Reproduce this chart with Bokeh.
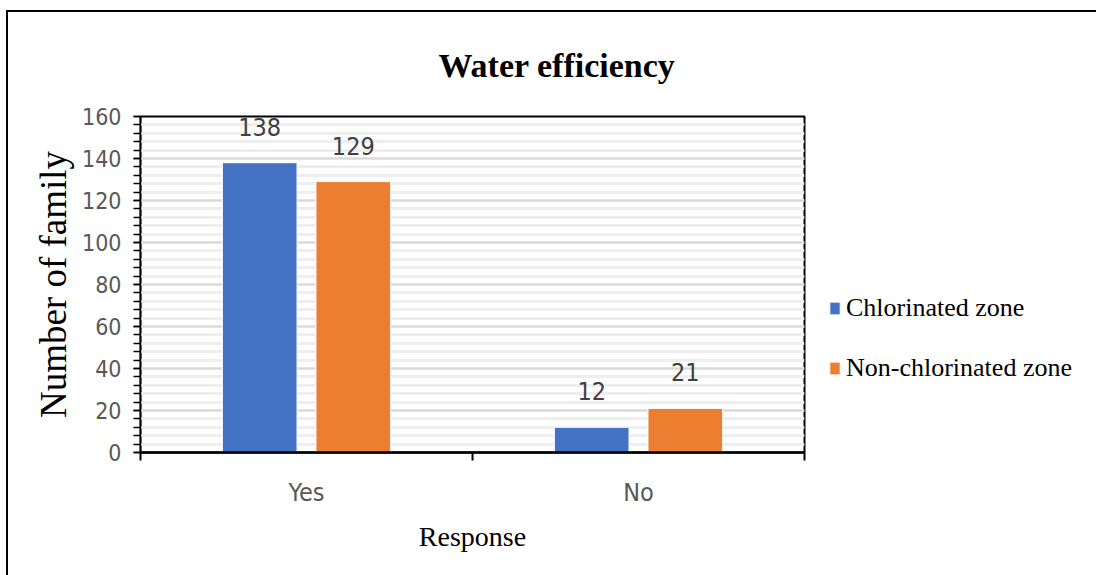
from bokeh.plotting import figure
from bokeh.models import (ColumnDataSource, Range1d, FixedTicker, SingleIntervalTicker,
                          Legend, LegendItem)
from bokeh.transform import dodge
from bokeh.core.properties import value
from bokeh.embed import file_html
from bokeh.resources import INLINE

# ---- data ----
categories = ["Yes", "No"]
chlorinated = [138, 12]
non_chlorinated = [129, 21]
series_names = ["Chlorinated zone", "Non-chlorinated zone"]
y_max = 160
y_step = 20

SERIF = "Liberation Serif"
NARROW = "'Liberation Sans Narrow', 'DejaVu Sans Condensed', 'Open Sans'"
BLUE = "#4472C4"
ORANGE = "#ED7D31"

n = len(categories)
# each category occupies one unit slot on the x scale: [i, i + 1]
centres = [i + 0.5 for i in range(n)]

src = ColumnDataSource(dict(
    cat=categories,
    xc=centres,
    chl=chlorinated,
    non=non_chlorinated,
    chl_lbl=[str(v) for v in chlorinated],
    non_lbl=[str(v) for v in non_chlorinated],
))

p = figure(
    x_range=Range1d(0, n), y_range=Range1d(0, y_max),
    frame_width=664, frame_height=336, output_backend="svg", toolbar_location=None,
    min_border_left=132, min_border_right=292, min_border_top=103, min_border_bottom=124,
    background_fill_color="white", border_fill_color="white",
)
p.styles = {"margin-left": "6px", "margin-top": "10px",
            "border-left": "2px solid #000", "border-top": "2px solid #000"}

p.outline_line_color = "black"
p.outline_line_width = 2

# bars
off, bw = 0.141, 0.225
r_chl = p.vbar(x=dodge("xc", -off, range=p.x_range), top="chl", width=bw, source=src,
               fill_color=BLUE, line_color="white", line_width=1)
r_non = p.vbar(x=dodge("xc", off, range=p.x_range), top="non", width=bw, source=src,
               fill_color=ORANGE, line_color="white", line_width=1)

# value labels
for col, lbl, sgn in (("chl", "chl_lbl", -1), ("non", "non_lbl", 1)):
    p.text(x=dodge("xc", sgn * off, range=p.x_range), y=col, text=lbl, source=src,
           text_align="center", text_baseline="bottom", y_offset=-27,
           text_font=value(NARROW), text_font_size="25px", text_color="#404040")

# y axis and grid
yt = SingleIntervalTicker(interval=y_step, num_minor_ticks=5)
p.yaxis.ticker = yt
p.ygrid.ticker = yt
p.xgrid.visible = False
p.ygrid.grid_line_color = "#D9D9D9"
p.ygrid.grid_line_width = 2
p.ygrid.minor_grid_line_color = "#EEEEEE"
p.ygrid.minor_grid_line_width = 3

ya = p.yaxis[0]
ya.axis_line_color = "black"
ya.axis_line_width = 1.5
ya.major_tick_in = 0
ya.major_tick_out = 7
ya.minor_tick_in = 0
ya.minor_tick_out = 7
ya.major_tick_line_width = 1.5
ya.minor_tick_line_width = 1.5
ya.major_tick_line_color = "black"
ya.minor_tick_line_color = "black"
ya.major_label_text_font = NARROW
ya.major_label_text_font_size = "23px"
ya.major_label_text_color = "#595959"
ya.major_label_standoff = 12
ya.axis_label = "Number of family"
ya.axis_label_text_font = SERIF
ya.axis_label_text_font_size = "37px"
ya.axis_label_text_font_style = "normal"
ya.axis_label_text_color = "black"
ya.axis_label_standoff = 5

# x axis: ticks at category boundaries, labels at category centres
xa = p.xaxis[0]
xa.ticker = FixedTicker(ticks=centres, minor_ticks=list(range(n + 1)))
xa.major_label_overrides = {c: name for c, name in zip(centres, categories)}
xa.axis_line_color = "black"
xa.axis_line_width = 2.5
xa.major_tick_line_color = None
xa.minor_tick_in = 0
xa.minor_tick_out = 8
xa.minor_tick_line_width = 2
xa.minor_tick_line_color = "black"
xa.major_label_text_font = NARROW
xa.major_label_text_font_size = "25px"
xa.major_label_text_color = "#595959"
xa.major_label_standoff = 17
xa.axis_label = "Response"
xa.axis_label_text_font = SERIF
xa.axis_label_text_font_size = "28px"
xa.axis_label_text_font_style = "normal"
xa.axis_label_text_color = "black"
xa.axis_label_standoff = 11

# title
p.title.text = "Water efficiency"
p.title.align = "left"
p.title.offset = 298
p.title.text_font = SERIF
p.title.text_font_size = "34px"
p.title.text_font_style = "bold"
p.title.text_color = "black"
p.title.standoff = 65

# legend in the right-hand panel
legend = Legend(
    items=[LegendItem(label=series_names[0], renderers=[r_chl]),
           LegendItem(label=series_names[1], renderers=[r_non])],
    location=(24, 69), orientation="vertical",
    label_text_font=SERIF, label_text_font_size="26px", label_text_color="black",
    glyph_width=13, glyph_height=16, label_standoff=5, spacing=30,
    padding=0, margin=0, border_line_color=None, background_fill_alpha=0,
)
p.add_layout(legend, "right")

open("out.html", "w").write(file_html(p, INLINE))
